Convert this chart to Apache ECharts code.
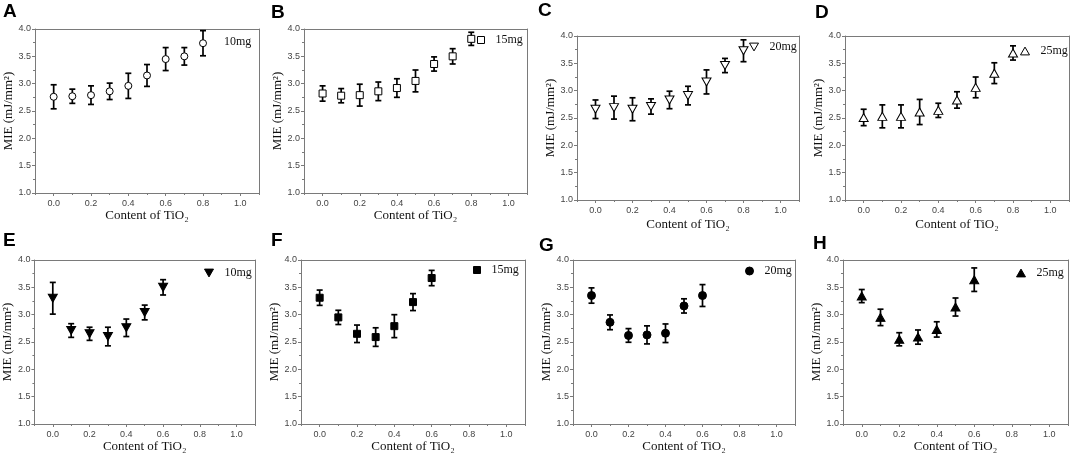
<!DOCTYPE html>
<html><head><meta charset="utf-8">
<script src="https://cdn.jsdelivr.net/npm/echarts@6/dist/echarts.min.js"></script>
<style>html,body{margin:0;padding:0;background:#fff}#c{width:1072px;height:454px}</style>
</head><body><div id="c"></div>
<script>
// ---- tick labels ----
const xTickValues = [0.0, 0.2, 0.4, 0.6, 0.8, 1.0];
const xMinorTickValues = [-0.1, 0.1, 0.3, 0.5, 0.7, 0.9, 1.1];
const panelLetters = ['A','B','C','D','E','F','G','H'];
const panelLegend = ['10mg','15mg','20mg','25mg','10mg','15mg','20mg','25mg'];

// ---- data (TiO2 content, mean MIE, error) ----
const contentTop = [0.0, 0.1, 0.2, 0.3, 0.4, 0.5, 0.6, 0.7, 0.8];
const contentBottom = [0.0, 0.1, 0.2, 0.3, 0.4, 0.5, 0.6];

const mieA = [2.76, 2.77, 2.79, 2.86, 2.96, 3.15, 3.45, 3.50, 3.74];
const errA = [0.22, 0.13, 0.17, 0.15, 0.23, 0.20, 0.21, 0.16, 0.23];
const mieB = [2.82, 2.78, 2.79, 2.86, 2.92, 3.05, 3.36, 3.50, 3.82];
const errB = [0.14, 0.13, 0.20, 0.17, 0.17, 0.20, 0.13, 0.14, 0.12];
const mieC = [2.66, 2.69, 2.66, 2.71, 2.83, 2.91, 3.16, 3.46, 3.73];
const errC = [0.17, 0.21, 0.21, 0.14, 0.16, 0.17, 0.22, 0.13, 0.20];
const mieD = [2.51, 2.53, 2.53, 2.61, 2.64, 2.83, 3.06, 3.32, 3.69];
const errD = [0.15, 0.21, 0.21, 0.23, 0.13, 0.15, 0.19, 0.19, 0.13];
const mieE = [3.30, 2.71, 2.65, 2.60, 2.76, 3.04, 3.50];
const errE = [0.29, 0.125, 0.12, 0.17, 0.16, 0.135, 0.14];
const mieF = [3.31, 2.95, 2.65, 2.59, 2.79, 3.23, 3.67];
const errF = [0.14, 0.13, 0.16, 0.17, 0.21, 0.155, 0.14];
const mieG = [3.35, 2.86, 2.62, 2.63, 2.66, 3.16, 3.35];
const errG = [0.14, 0.135, 0.125, 0.165, 0.17, 0.13, 0.20];
const mieH = [3.34, 2.95, 2.55, 2.59, 2.73, 3.14, 3.64];
const errH = [0.12, 0.15, 0.12, 0.13, 0.14, 0.165, 0.215];

const panelData = [
  [contentTop, mieA, errA], [contentTop, mieB, errB], [contentTop, mieC, errC], [contentTop, mieD, errD],
  [contentBottom, mieE, errE], [contentBottom, mieF, errF], [contentBottom, mieG, errG], [contentBottom, mieH, errH]
];

// ---- layout & styles ----
const grids = [
  {left:35, top:29, width:224, height:164},
  {left:304, top:29, width:223, height:164},
  {left:577, top:36, width:222, height:164},
  {left:845, top:36, width:224, height:164},
  {left:32, top:260, width:223, height:164},
  {left:301, top:260, width:224, height:164},
  {left:573, top:260, width:222, height:164},
  {left:843, top:260, width:225, height:164}
];
const letterPos = [[3,2],[271,3],[538,1],[815,3],[3,231],[271,231],[539,236],[813,234]];
const legendPos = [[206,36],[477,34],[749,41],[1020,45],[204,267],[473,264],[745,265],[1016,267]];
const xNameGap = [16,16,18,18,14,14,14,14];
const downTri = 'path://M0,0L10,0L5,8.66Z';
const upTri = 'path://M5,0L10,8.66L0,8.66Z';
const markers = [
  {symbol:'circle', size:[7,7], fill:'#fff'},
  {symbol:'rect', size:[7,7], fill:'#fff'},
  {symbol:downTri, size:[9,8], fill:'#fff'},
  {symbol:upTri, size:[9,8], fill:'#fff'},
  {symbol:downTri, size:[9,8], fill:'#000'},
  {symbol:'rect', size:[7,7], fill:'#000'},
  {symbol:'circle', size:[8,8], fill:'#000'},
  {symbol:upTri, size:[9,8], fill:'#000'}
];

const axisColor = '#7a7a7a';
const labelFont = {fontFamily:'Liberation Sans, Arial, sans-serif', fontSize:9, color:'#444'};
const serif = 'Liberation Serif, Times New Roman, serif';

function errRender(params, api) {
  const x = api.value(0), lo = api.value(1), hi = api.value(2);
  const a = api.coord([x, lo]), b = api.coord([x, hi]);
  const w = 3;
  const style = {stroke:'#000', lineWidth:1.7};
  return {type:'group', children:[
    {type:'line', shape:{x1:a[0], y1:a[1], x2:b[0], y2:b[1]}, style},
    {type:'line', shape:{x1:a[0]-w, y1:a[1], x2:a[0]+w, y2:a[1]}, style},
    {type:'line', shape:{x1:b[0]-w, y1:b[1], x2:b[0]+w, y2:b[1]}, style}
  ]};
}

const option = {animation:false, backgroundColor:'#fff', grid:[], xAxis:[], yAxis:[], series:[], title:[], legend:[]};

grids.forEach((g, p) => {
  option.grid.push(Object.assign({containLabel:false}, g));
  const xBase = {type:'value', gridIndex:p, min:-0.1, max:1.1, splitLine:{show:false}};
  option.xAxis.push(Object.assign({}, xBase, {
    position:'bottom',
    name:'Content of TiO₂', nameLocation:'middle', nameGap:xNameGap[p],
    nameTextStyle:{fontFamily:serif, fontSize:13, color:'#111'},
    axisLine:{onZero:false, lineStyle:{color:axisColor, width:1}},
    axisTick:{customValues:xTickValues, length:3, lineStyle:{color:axisColor}},
    axisLabel:Object.assign({customValues:xTickValues, margin:6, formatter:v => v.toFixed(1)}, labelFont)
  }));
  option.xAxis.push(Object.assign({}, xBase, {
    position:'bottom',
    axisLine:{show:false, onZero:false},
    axisTick:{customValues:xMinorTickValues, length:2, lineStyle:{color:axisColor}},
    axisLabel:{show:false}
  }));
  option.xAxis.push(Object.assign({}, xBase, {
    position:'top',
    axisLine:{onZero:false, lineStyle:{color:axisColor, width:1}},
    axisTick:{show:false}, axisLabel:{show:false}
  }));
  option.yAxis.push({
    type:'value', gridIndex:p, min:1, max:4, interval:0.5, position:'left',
    name:'MIE (mJ/mm²)', nameLocation:'middle', nameGap:14,
    nameTextStyle:{fontFamily:serif, fontSize:13, color:'#111'},
    splitLine:{show:false},
    axisLine:{onZero:false, lineStyle:{color:axisColor, width:1}},
    axisTick:{length:3, lineStyle:{color:axisColor}},
    minorTick:{show:true, splitNumber:2, length:2, lineStyle:{color:axisColor}},
    axisLabel:Object.assign({margin:4, formatter:v => v.toFixed(1)}, labelFont)
  });
  option.yAxis.push({
    type:'value', gridIndex:p, min:1, max:4, interval:0.5, position:'right',
    splitLine:{show:false},
    axisLine:{onZero:false, lineStyle:{color:axisColor, width:1}},
    axisTick:{show:false}, axisLabel:{show:false}
  });

  const [xs, ys, es] = panelData[p];
  const errData = xs.map((x, i) => [x, ys[i] - es[i], ys[i] + es[i]]);
  const ptData = xs.map((x, i) => [x, ys[i]]);
  const m = markers[p];
  const sname = panelLetters[p] + ':' + panelLegend[p];

  option.series.push({
    type:'custom', xAxisIndex:p*3, yAxisIndex:p*2, renderItem:errRender,
    encode:{x:0, y:[1,2]}, data:errData, z:2, silent:true
  });
  option.series.push({
    type:'scatter', name:sname, xAxisIndex:p*3, yAxisIndex:p*2,
    symbol:m.symbol, symbolSize:m.size,
    itemStyle:{color:m.fill, borderColor:'#000', borderWidth:1, opacity:1},
    data:ptData, z:3
  });

  option.title.push({
    text:panelLetters[p], left:letterPos[p][0], top:letterPos[p][1], padding:0,
    textStyle:{fontFamily:'Liberation Sans, Arial, sans-serif', fontWeight:'bold', fontSize:19, color:'#000'}
  });
  option.legend.push({
    data:[{name:sname, icon: p === 0 ? 'none' : m.symbol}],
    left:legendPos[p][0], top:legendPos[p][1], padding:0,
    itemWidth:m.size[0], itemHeight:m.size[1], selectedMode:false,
    itemStyle:{color:m.fill, borderColor:'#000', borderWidth:1},
    formatter:() => panelLegend[p],
    textStyle:{fontFamily:serif, fontSize:12, color:'#111', padding:[0,0,0,6]}
  });
});

const chart = echarts.init(document.getElementById('c'), null, {renderer:'canvas'});
chart.setOption(option);
</script>
</body></html>
